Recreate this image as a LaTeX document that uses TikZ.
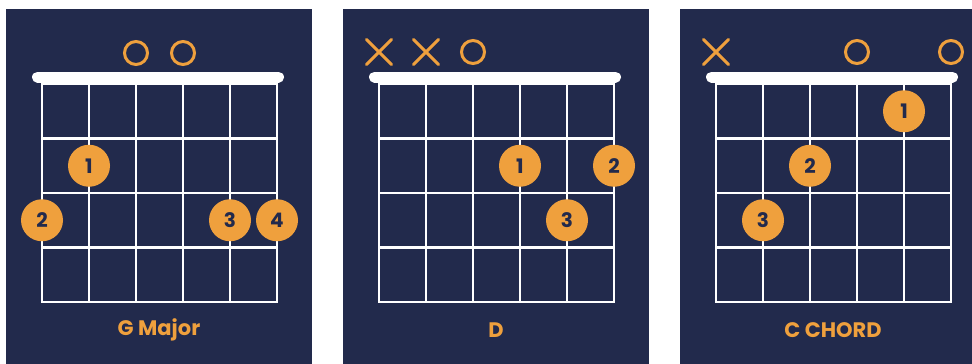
\documentclass[tikz,border=0pt]{standalone}
\usepackage{fontspec}
\setmainfont{Poppins}
\usetikzlibrary{shapes.misc}
\definecolor{navy}{HTML}{222A4C}
\definecolor{chordorange}{HTML}{EFA03D}

\begin{document}
\begin{tikzpicture}[
    x=1pt, y=-1pt,
    font=\bfseries,
    panel/.style={fill=navy},
    fretline/.style={draw=white, line width=2.6pt, line cap=rect},
    nutbar/.style={draw=white, line width=11pt, line cap=round},
    finger/.style={
        circle, fill=chordorange, text=navy, minimum size=42pt,
        inner sep=0pt, font=\fontsize{20}{20}\selectfont\bfseries
    },
    openstr/.style={
        circle, draw=chordorange, line width=3pt, minimum size=23pt,
        inner sep=0pt
    },
    mutestr/.style={
        cross out, draw=chordorange, line width=3pt, minimum size=22pt,
        inner sep=0pt, line cap=round
    },
    chordname/.style={text=chordorange, font=\fontsize{21}{24}\selectfont\bfseries}
]

% Page: white margin on top, panels run off the bottom and right
\fill[white] (0, 0) rectangle (972, 364);
\clip (0, 0) rectangle (972, 364);

% Three chord boxes: background, strings, frets and the nut
\foreach \px in {6, 343, 680} {
    \fill[panel] (\px, 9) rectangle ++(306, 355);
    \foreach \s in {0,...,5}
        \draw[fretline] (\px+36+47*\s, 84) -- (\px+36+47*\s, 302);
    \foreach \f in {0,...,4}
        \draw[fretline] (\px+36, 84+54.5*\f) -- (\px+271, 84+54.5*\f);
    \draw[nutbar] (\px+31.5, 77) -- (\px+272.5, 77);
}

% G major
\node[openstr] (gopen3) at (136, 53) {};
\node[openstr] (gopen4) at (183, 53) {};
\node[finger] (gfing1) at (89, 165.75) {1};
\node[finger] (gfing2) at (42, 220.25) {2};
\node[finger] (gfing3) at (230, 220.25) {3};
\node[finger] (gfing4) at (277, 220.25) {4};
\node[chordname] (gname) at (159, 330) {G Major};

% D
\node[mutestr] (dmute1) at (379, 52) {};
\node[mutestr] (dmute2) at (426, 52) {};
\node[openstr] (dopen3) at (473, 52) {};
\node[finger] (dfing1) at (520, 165.75) {1};
\node[finger] (dfing2) at (614, 165.75) {2};
\node[finger] (dfing3) at (567, 220.25) {3};
\node[chordname] (dname) at (496, 330) {D};

% C chord
\node[mutestr] (cmute1) at (716, 52) {};
\node[openstr] (copen4) at (857, 52) {};
\node[openstr] (copen6) at (951, 52) {};
\node[finger] (cfing1) at (904, 111.25) {1};
\node[finger] (cfing2) at (810, 165.75) {2};
\node[finger] (cfing3) at (763, 220.25) {3};
\node[chordname] (cname) at (833, 330) {C CHORD};

\end{tikzpicture}
\end{document}
